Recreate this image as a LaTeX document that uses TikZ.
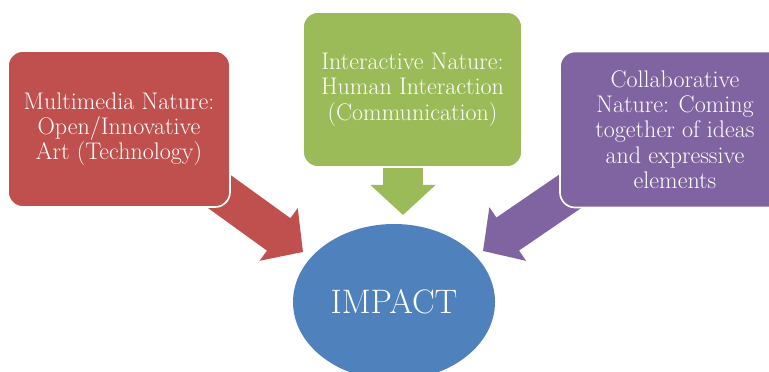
\documentclass[tikz,border=0pt]{standalone}
\usetikzlibrary{arrows.meta, shapes.geometric, backgrounds}
\definecolor{boxred}{HTML}{C0504D}
\definecolor{boxgreen}{HTML}{9BBB59}
\definecolor{boxpurple}{HTML}{8064A2}
\definecolor{impactblue}{HTML}{4F81BD}
\tikzset{
  infobox/.style={rectangle, rounded corners=0.45cm, draw=white, line width=0.05cm,
    text=white, align=center, inner sep=0pt,
    font=\fontsize{20.5pt}{21.6pt}\selectfont},
  blockarrow/.style={line width=1.2cm, -{Triangle[width=1.9cm,length=0.9cm]}},
}

\begin{document}
\begin{tikzpicture}[x=0.03cm, y=-0.03cm]
	\useasboundingbox (0,0) rectangle (769,372);
	\clip (0,0) rectangle (769,372);

	% the three natures
	\node[infobox, fill=boxred, minimum width=6.66cm, minimum height=4.68cm] (red) at (119,129)
		{Multimedia Nature:\\ Open/Innovative\\ Art (Technology)};
	\node[infobox, fill=boxgreen, minimum width=6.57cm, minimum height=4.65cm] (green) at (412.5,89.5)
		{Interactive Nature:\\ Human Interaction\\ (Communication)};
	\node[infobox, fill=boxpurple, minimum width=6.9cm, minimum height=4.68cm] (purple) at (675,129.5)
		{Collaborative\\ Nature: Coming\\ together of ideas\\ and expressive\\ elements};

	% the result
	\node[ellipse, fill=impactblue, inner sep=0pt, minimum width=6.06cm, minimum height=4.68cm,
		text=white, font=\fontsize{29pt}{32pt}\selectfont] (impact) at (394,302) {IMPACT};

	\coordinate (rtip) at (303,252);
	\coordinate (gtip) at (403,215);
	\coordinate (ptip) at (483,251);

	% arrows go under the boxes
	\begin{pgfonlayer}{background}
		\fill[white] (0,0) rectangle (769,372);
		\draw[blockarrow, boxred] ([yshift=3mm]red.center) -- (rtip);
		\draw[blockarrow, boxgreen] (gtip |- green.center) -- (gtip);
		\draw[blockarrow, boxpurple] ([yshift=3mm]purple.center) -- (ptip);
	\end{pgfonlayer}
\end{tikzpicture}
\end{document}
